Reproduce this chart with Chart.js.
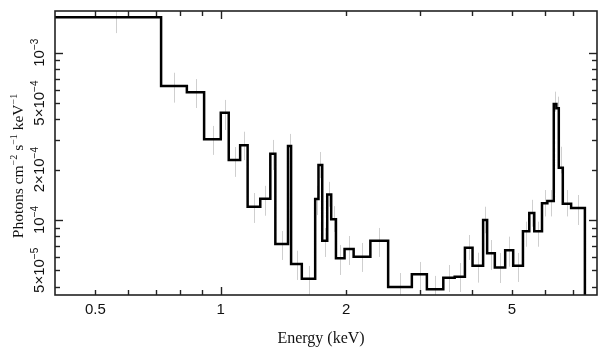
<!DOCTYPE html>
<html><head><meta charset="utf-8">
<script src="https://cdn.jsdelivr.net/npm/chart.js@4/dist/chart.umd.min.js"></script>
<style>html,body{margin:0;padding:0;background:#fff;}canvas{display:block;}</style>
</head><body>
<canvas id="c" width="608" height="357"></canvas>
<script>
// Energy bin edges (keV)
const binEdges = [0.40,0.719,0.829,0.912,1.000,1.045,1.113,1.160,1.244,1.315,1.352,1.450,1.475,1.565,1.685,1.716,1.752,1.801,1.841,1.890,1.982,2.084,2.286,2.522,2.875,3.124,3.421,3.643,3.855,4.021,4.263,4.359,4.548,4.816,5.034,5.313,5.502,5.656,5.903,6.080,6.300,6.391,6.477,6.622,6.934,7.482];
// Flux per bin (photons cm^-2 s^-1 keV^-1)
const flux = [1.63e-3,6.32e-4,5.80e-4,3.04e-4,4.38e-4,2.28e-4,2.80e-4,1.20e-4,1.34e-4,2.49e-4,
  7.18e-5,2.77e-4,5.46e-5,4.46e-5,1.335e-4,2.13e-4,7.52e-5,1.42e-4,1.01e-4,5.90e-5,
  6.71e-5,6.03e-5,7.52e-5,3.98e-5,4.74e-5,3.85e-5,4.52e-5,4.58e-5,6.83e-5,5.33e-5,
  1.00e-4,6.32e-5,5.19e-5,6.59e-5,5.33e-5,8.56e-5,1.10e-4,8.56e-5,1.26e-4,1.30e-4,
  4.94e-4,4.65e-4,2.05e-4,1.25e-4,1.18e-4];
// Error bar upper / lower values
const errHi = [2.2e-3,7.59e-4,6.96e-4,3.65e-4,5.22e-4,2.73e-4,3.37e-4,1.45e-4,1.60e-4,3.01e-4,
  8.59e-5,3.27e-4,6.55e-5,5.31e-5,1.60e-4,2.55e-4,8.96e-5,1.69e-4,1.21e-4,7.09e-5,
  8.02e-5,7.29e-5,8.96e-5,4.82e-5,5.61e-5,4.63e-5,5.38e-5,5.53e-5,8.13e-5,6.37e-5,
  1.20e-4,7.59e-5,6.35e-5,7.95e-5,6.35e-5,9.77e-5,1.32e-4,9.77e-5,1.51e-4,1.51e-4,
  5.85e-4,5.46e-4,2.74e-4,1.51e-4,1.41e-4];
const errLo = [1.31e-3,5.03e-4,4.67e-4,2.45e-4,3.45e-4,1.81e-4,2.28e-4,9.60e-5,1.06e-4,1.99e-4,
  5.77e-5,2.28e-4,4.38e-5,3.46e-5,1.07e-4,1.78e-4,6.01e-5,1.20e-4,8.48e-5,4.69e-5,
  5.38e-5,4.89e-5,6.01e-5,3.32e-5,3.71e-5,3.32e-5,3.71e-5,3.71e-5,5.77e-5,4.22e-5,
  8.33e-5,5.02e-5,4.20e-5,5.26e-5,4.26e-5,6.92e-5,9.12e-5,6.92e-5,1.05e-4,1.05e-4,
  4.44e-4,4.14e-4,1.90e-4,1.05e-4,9.33e-5];
// Axis ticks and labels
const xTickValues = [0.5, 1, 2, 5];
const xTickLabels = ['0.5', '1', '2', '5'];
const xMajorTicks = [1];
const xMinorTicks = [0.5,0.6,0.7,0.8,0.9,2,3,4,5,6,7];
const yTickValues = [1e-3, 5e-4, 2e-4, 1e-4, 5e-5];
const yTickMantissa = ['', '5\u00d7', '2\u00d7', '', '5\u00d7'];
const yTickExponent = ['\u22123', '\u22124', '\u22124', '\u22124', '\u22125'];
const yMajorTicks = [1e-3, 1e-4];
const yMinorTicks = [4e-5,5e-5,6e-5,7e-5,8e-5,9e-5,2e-4,3e-4,4e-4,5e-4,6e-4,7e-4,8e-4,9e-4];
const xTitle = 'Energy (keV)';
const yTitleParts = [['Photons cm',''],['\u22122','sup'],[' s',''],['\u22121','sup'],[' keV',''],['\u22121','sup']];

// Build step data
const stepPoints = [];
for (let i = 0; i < flux.length; i++) stepPoints.push({x: binEdges[i], y: flux[i]});
stepPoints.push({x: binEdges[binEdges.length-1], y: flux[flux.length-1]});
stepPoints.push({x: binEdges[binEdges.length-1], y: 1e-5});

const SANS = '"Liberation Sans", Arial, sans-serif';
const SERIF = '"Liberation Serif", "Times New Roman", serif';

function drawComposite(ctx, parts, baseFont, supFont, supRise) {
  let w = 0;
  parts.forEach(p => { ctx.font = p[1]==='sup' ? supFont : baseFont; w += ctx.measureText(p[0]).width; });
  let x = -w/2;
  ctx.textAlign = 'left'; ctx.textBaseline = 'alphabetic';
  parts.forEach(p => {
    const sup = p[1]==='sup';
    ctx.font = sup ? supFont : baseFont;
    ctx.fillText(p[0], x, sup ? -supRise : 0);
    x += ctx.measureText(p[0]).width;
  });
}

const decor = {
  id: 'decor',
  beforeDatasetsDraw(chart) {
    const ctx = chart.ctx, xs = chart.scales.x, ys = chart.scales.y, a = chart.chartArea;
    ctx.save();
    ctx.beginPath(); ctx.rect(a.left, a.top, a.right-a.left, a.bottom-a.top); ctx.clip();
    ctx.strokeStyle = '#cfcfcf'; ctx.lineWidth = 1;
    for (let i = 0; i < flux.length; i++) {
      const xc = Math.round(xs.getPixelForValue((binEdges[i]+binEdges[i+1])/2)) + 0.5;
      ctx.beginPath();
      ctx.moveTo(xc, ys.getPixelForValue(errHi[i]));
      ctx.lineTo(xc, ys.getPixelForValue(errLo[i]));
      ctx.stroke();
    }
    ctx.restore();
  },
  afterDatasetsDraw(chart) {
    const ctx = chart.ctx, xs = chart.scales.x, ys = chart.scales.y, a = chart.chartArea;
    ctx.save();
    ctx.strokeStyle = '#222'; ctx.lineWidth = 1.6;
    ctx.strokeRect(a.left, a.top, a.right-a.left, a.bottom-a.top);
    ctx.lineWidth = 1.4;
    const tick = (x1,y1,x2,y2) => { ctx.beginPath(); ctx.moveTo(x1,y1); ctx.lineTo(x2,y2); ctx.stroke(); };
    const LMAJ = 8, LMIN = 5;
    xMajorTicks.concat(xMinorTicks).forEach(v => {
      const L = xMajorTicks.includes(v) ? LMAJ : LMIN;
      const px = Math.round(xs.getPixelForValue(v)) + 0.5;
      tick(px, a.bottom, px, a.bottom - L);
      tick(px, a.top, px, a.top + L);
    });
    yMajorTicks.concat(yMinorTicks).forEach(v => {
      const L = yMajorTicks.includes(v) ? LMAJ : LMIN;
      const py = Math.round(ys.getPixelForValue(v)) + 0.5;
      tick(a.left, py, a.left + L, py);
      tick(a.right, py, a.right - L, py);
    });
    // x tick labels
    ctx.fillStyle = '#111';
    ctx.font = '15px ' + SANS; ctx.textAlign = 'center'; ctx.textBaseline = 'alphabetic';
    xTickValues.forEach((v,i) => ctx.fillText(xTickLabels[i], xs.getPixelForValue(v), a.bottom + 18.5));
    // y tick labels (rotated)
    yTickValues.forEach((v,i) => {
      ctx.save();
      ctx.translate(a.left - 11, ys.getPixelForValue(v));
      ctx.rotate(-Math.PI/2);
      const parts = [];
      if (yTickMantissa[i]) parts.push([yTickMantissa[i], '']);
      parts.push(['10','']); parts.push([yTickExponent[i],'sup']);
      drawComposite(ctx, parts, '15px ' + SANS, '10px ' + SANS, 6);
      ctx.restore();
    });
    // axis titles
    ctx.font = '16px ' + SERIF; ctx.textAlign = 'center';
    ctx.fillText(xTitle, (a.left + a.right)/2 - 5, a.bottom + 48);
    ctx.save();
    ctx.translate(22.5, 166);
    ctx.rotate(-Math.PI/2);
    drawComposite(ctx, yTitleParts, '15.5px ' + SERIF, '10px ' + SERIF, 6);
    ctx.restore();
    ctx.restore();
  }
};

new Chart(document.getElementById('c').getContext('2d'), {
  type: 'line',
  data: { datasets: [{ data: stepPoints, stepped: 'before', borderColor: '#000', borderWidth: 2.5,
    pointRadius: 0, fill: false, tension: 0 }] },
  options: {
    responsive: false, animation: false, devicePixelRatio: 1,
    layout: { padding: { left: 55, right: 11, top: 11, bottom: 62 } },
    plugins: { legend: { display: false }, tooltip: { enabled: false } },
    scales: {
      x: { type: 'logarithmic', min: 0.4, max: 8, display: false },
      y: { type: 'logarithmic', min: 3.56e-5, max: 1.776e-3, display: false }
    }
  },
  plugins: [decor]
});
</script>
</body></html>
